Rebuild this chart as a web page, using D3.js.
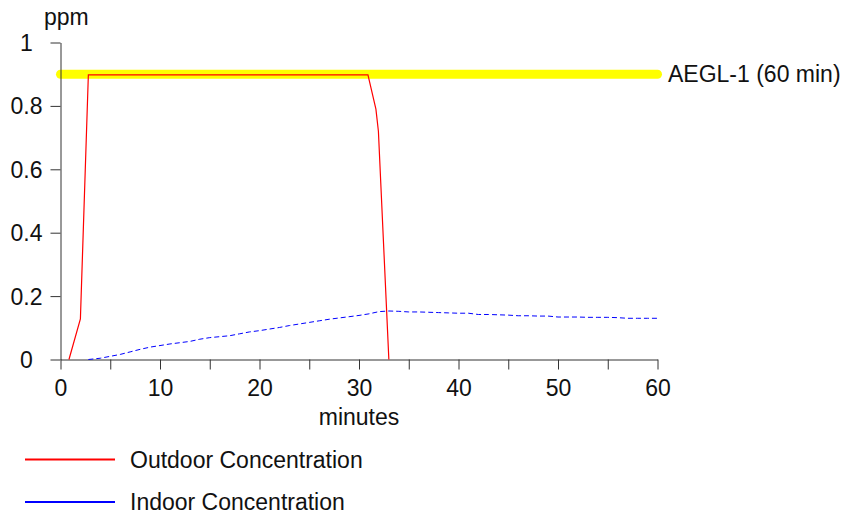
<!DOCTYPE html>
<html>
<head>
<meta charset="utf-8">
<script src="https://cdn.jsdelivr.net/npm/d3@7"></script>
<style>
html,body{margin:0;padding:0;background:#fff;}
svg{display:block;font-family:Arial,"Liberation Sans",sans-serif;}
</style>
</head>
<body>
<svg id="chart" width="843" height="514"></svg>
<script>
// ---- data ----
const xTicks = [0,5,10,15,20,25,30,35,40,45,50,55,60];
const xLabels = [0,10,20,30,40,50,60];
const yTicks = [0,0.2,0.4,0.6,0.8,1];
const yLabels = ["0","0.2","0.4","0.6","0.8","1"];
const aeglValue = 0.9;
const aeglLabel = "AEGL-1 (60 min)";
const outdoorTime = [0.85, 2, 2.8, 30.9, 31.7, 31.95, 33];
const outdoorValue = [0, 0.128, 0.898, 0.898, 0.79, 0.72, 0];
const indoorTime = [2.8,4,5,6,7,8,9,10,11,12,13,14,15,16,17,18,19,20,21,22,23,24,25,26,27,28,29,30,31,32,33,34,35,36,37,38,39,40,41,42,43,44,45,46,47,48,49,50,51,52,53,54,55,56,57,58,59,60];
const indoorValue = [0,0.004,0.01,0.016,0.024,0.032,0.039,0.044,0.049,0.053,0.057,0.064,0.069,0.072,0.075,0.081,0.087,0.091,0.096,0.101,0.107,0.112,0.117,0.122,0.127,0.131,0.135,0.139,0.144,0.151,0.153,0.152,0.15,0.15,0.149,0.148,0.147,0.146,0.146,0.142,0.142,0.141,0.14,0.138,0.138,0.137,0.137,0.134,0.134,0.134,0.133,0.133,0.133,0.132,0.13,0.13,0.13,0.13];
const legendNames = ["Outdoor Concentration","Indoor Concentration"];
const legendColors = ["#ff0000","#0000ff"];
const yTitle = "ppm";
const xTitle = "minutes";

// ---- chart ----
const svg = d3.select("#chart");
const FS = 23;
const x = d3.scaleLinear().domain([0,60]).range([60.5,657.5]);
const y = d3.scaleLinear().domain([0,1]).range([359.5,42.5]);

// AEGL band
svg.append("line")
  .attr("x1", x(0)).attr("x2", x(60))
  .attr("y1", y(aeglValue)).attr("y2", y(aeglValue))
  .attr("stroke","#ffff00").attr("stroke-width",9).attr("stroke-linecap","round");
svg.append("text")
  .attr("x", 668).attr("y", y(aeglValue)+8)
  .attr("font-size",FS).attr("fill","#111").text(aeglLabel);

// axes
const yAxis = d3.axisLeft(y).tickValues(yTicks).tickSize(10).tickSizeOuter(0)
  .tickFormat((d,i)=>yLabels[i]);
const gy = svg.append("g").attr("transform","translate(60.5,0)").call(yAxis);
gy.selectAll("text").attr("text-anchor","middle").attr("x",-34).attr("dy","0.35em")
  .attr("font-size",FS).attr("font-family",null).attr("fill","#111");

const xAxis = d3.axisBottom(x).tickValues(xTicks).tickSize(10).tickSizeOuter(0)
  .tickFormat(d => xLabels.includes(d) ? String(d) : "");
const gx = svg.append("g").attr("transform","translate(0,359.5)").call(xAxis);
gx.selectAll("text").attr("y",36).attr("dy",null)
  .attr("font-size",FS).attr("font-family",null).attr("fill","#111");

[gx,gy].forEach(g=>{
  g.selectAll("line,path").attr("stroke","#333").attr("stroke-width",1);
});

// titles
svg.append("text").attr("x",44).attr("y",25).attr("font-size",FS).attr("fill","#111").text(yTitle);
svg.append("text").attr("x",x(30)).attr("y",425).attr("text-anchor","middle")
  .attr("font-size",FS).attr("fill","#111").text(xTitle);

// lines
const line = d3.line().x(d=>x(d[0])).y(d=>y(d[1]));
svg.append("path").datum(indoorTime.map((t,i)=>[t,indoorValue[i]]))
  .attr("d",line).attr("fill","none").attr("stroke",legendColors[1])
  .attr("stroke-width",1).attr("stroke-dasharray","5,3");
svg.append("path").datum(outdoorTime.map((t,i)=>[t,outdoorValue[i]]))
  .attr("d",line).attr("fill","none").attr("stroke",legendColors[0])
  .attr("stroke-width",1.2);

// legend
const lg = svg.append("g");
legendNames.forEach((n,i)=>{
  const yy = 459.5 + i*42.5;
  lg.append("line").attr("x1",25).attr("x2",115).attr("y1",yy).attr("y2",yy)
    .attr("stroke",legendColors[i]).attr("stroke-width",2);
  lg.append("text").attr("x",130).attr("y",yy+8).attr("font-size",FS).attr("fill","#111").text(n);
});
</script>
</body>
</html>
